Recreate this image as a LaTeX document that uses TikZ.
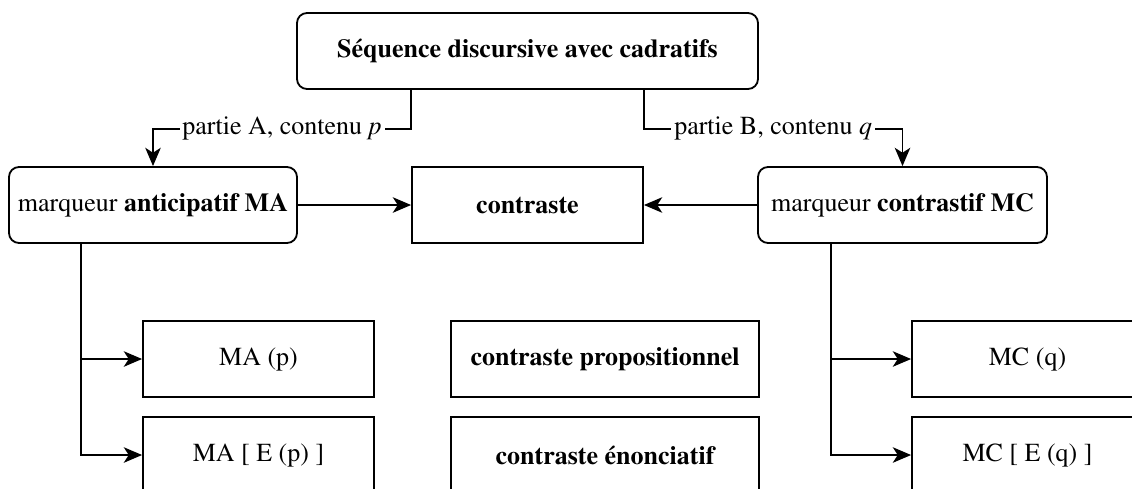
\documentclass[tikz,border=0pt]{standalone}
\usepackage[T1]{fontenc}
\usepackage{mathptmx}
\usetikzlibrary{arrows.meta, positioning}

\begin{document}
\begin{tikzpicture}[on grid, >={Stealth[length=13pt, width=11pt, inset=3.5pt]}, line width=1.3pt,
	every node/.style={font=\fontsize{18.5}{22}\selectfont},
	box/.style={draw, minimum height=1.9cm, inner sep=0pt},
	rbox/.style={box, rounded corners=0.25cm},
	lbl/.style={fill=white, inner sep=2pt}]
	\useasboundingbox (0,0) rectangle (28.3,-12.2);
	\clip (0,0) rectangle (28.3,-12.2);
	
	\node[rbox, minimum width=11.525cm] (seq) at (13.1875,-1.275) {\textbf{Séquence discursive avec cadratifs}};
	
	\node[box, minimum width=5.775cm, below=3.85cm of seq] (contr) {\textbf{contraste}};
	\node[rbox, minimum width=7.2cm, left=9.3625cm of contr] (marqA) {marqueur \textbf{anticipatif MA}};
	\node[rbox, minimum width=7.225cm, right=9.375cm of contr] (marqC) {marqueur \textbf{contrastif MC}};
	
	\node[box, minimum width=5.775cm, below right=3.85cm and 2.6375cm of marqA] (mAp) {MA (p)};
	\node[box, minimum width=5.775cm, below=2.4cm of mAp] (mAE) {MA [ E (p) ]};
	
	\node[box, minimum width=7.7cm, right=8.6625cm of mAp] (cprop) {\textbf{contraste propositionnel}};
	\node[box, minimum width=7.7cm, below=2.4cm of cprop] (cenon) {\textbf{contraste énonciatif}};
	
	\node[box, minimum width=5.775cm, right=10.5625cm of cprop] (mCq) {MC (q)};
	\node[box, minimum width=5.775cm, below=2.4cm of mCq] (mCE) {MC [ E (q) ]};
	
	\coordinate (brA) at ([xshift=1.825cm]marqA.south west);
	\coordinate (brC) at ([xshift=1.85cm]marqC.south west);
	
	\draw[->] (seq.south -| contr.west) -- ++(0,-0.975) -| node[lbl, pos=0.25] {partie A, contenu \textit{p}} (marqA.north);
	\draw[->] (seq.south -| contr.east) -- ++(0,-0.975) -| node[lbl, pos=0.25] {partie B, contenu \textit{q}} (marqC.north);
	
	\draw[->] (marqA) -- (contr);
	\draw[->] (marqC) -- (contr);
	
	\draw[->] (brA) |- (mAp.west);
	\draw[->] (brA) |- (mAE.west);
	\draw[->] (brC) |- (mCq.west);
	\draw[->] (brC) |- (mCE.west);
\end{tikzpicture}
\end{document}
